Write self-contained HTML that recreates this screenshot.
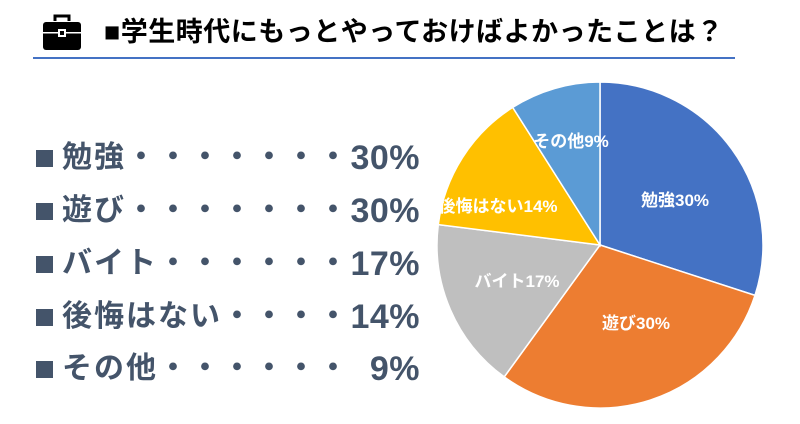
<!DOCTYPE html>
<html><head><meta charset="utf-8"><style>
body{margin:0;width:800px;height:424px;background:#fff;overflow:hidden;position:relative;font-family:"Liberation Sans","Noto Sans CJK JP",sans-serif;}
.t{position:absolute;left:104px;top:10px;font-size:27px;font-weight:bold;color:#000;white-space:nowrap;letter-spacing:0.5px}
.sq{position:absolute;left:36px;width:17px;height:17px;background:#44546A}
.row{position:absolute;left:62px;font-size:30px;font-weight:bold;color:#44546A;white-space:nowrap;line-height:36px;letter-spacing:2px}
.p{position:absolute;font-size:34px;font-weight:bold;color:#44546A;line-height:36px;right:380px;white-space:nowrap;letter-spacing:0.5px}
.line{position:absolute;left:33px;top:57px;width:702px;height:2px;background:#4472C4}
</style></head><body>
<svg style="position:absolute;left:42px;top:13px" width="40" height="38" viewBox="0 0 40 38">
<path d="M13 8V3h14v5" fill="none" stroke="#000" stroke-width="3"/>
<rect x="1" y="9" width="38" height="28" rx="3" fill="#000"/>
<rect x="1" y="19" width="38" height="1.5" fill="#fff"/>
<rect x="16" y="16" width="8" height="8" fill="#fff"/><rect x="18" y="18" width="4" height="4" fill="#000"/>
</svg>
<div class="t">■学生時代にもっとやっておけばよかったことは？</div>
<div class="line"></div>
<div class="sq" style="top:150px"></div><div class="row" style="top:140px">勉強・・・・・・・</div><div class="p" style="top:140px">30%</div>
<div class="sq" style="top:203px"></div><div class="row" style="top:193px">遊び・・・・・・・</div><div class="p" style="top:193px">30%</div>
<div class="sq" style="top:256px"></div><div class="row" style="top:246px">バイト・・・・・・</div><div class="p" style="top:246px">17%</div>
<div class="sq" style="top:309px"></div><div class="row" style="top:299px">後悔はない・・・・</div><div class="p" style="top:299px">14%</div>
<div class="sq" style="top:361px"></div><div class="row" style="top:351px">その他・・・・・・</div><div class="p" style="top:351px">9%</div>
<svg style="position:absolute;left:0;top:0" width="800" height="424">
<g stroke="#fff" stroke-width="1.5">
<path d="M600 245L600 82A163 163 0 0 1 755 295.4Z" fill="#4472C4"/>
<path d="M600 245L755 295.4A163 163 0 0 1 504.2 376.9Z" fill="#ED7D31"/>
<path d="M600 245L504.2 376.9A163 163 0 0 1 438.3 224.6Z" fill="#BFBFBF"/>
<path d="M600 245L438.3 224.6A163 163 0 0 1 512.7 107.4Z" fill="#FFC000"/>
<path d="M600 245L512.7 107.4A163 163 0 0 1 600 82Z" fill="#5B9BD5"/>
</g>
<g fill="#fff" font-weight="bold" font-size="17" font-family="Liberation Sans,Noto Sans CJK JP,sans-serif" text-anchor="middle">
<text x="675" y="206">勉強30%</text>
<text x="636" y="329">遊び30%</text>
<text x="517" y="287">バイト17%</text>
<text x="498" y="212">後悔はない14%</text>
<text x="571" y="147">その他9%</text>
</g>
</svg>
</body></html>
